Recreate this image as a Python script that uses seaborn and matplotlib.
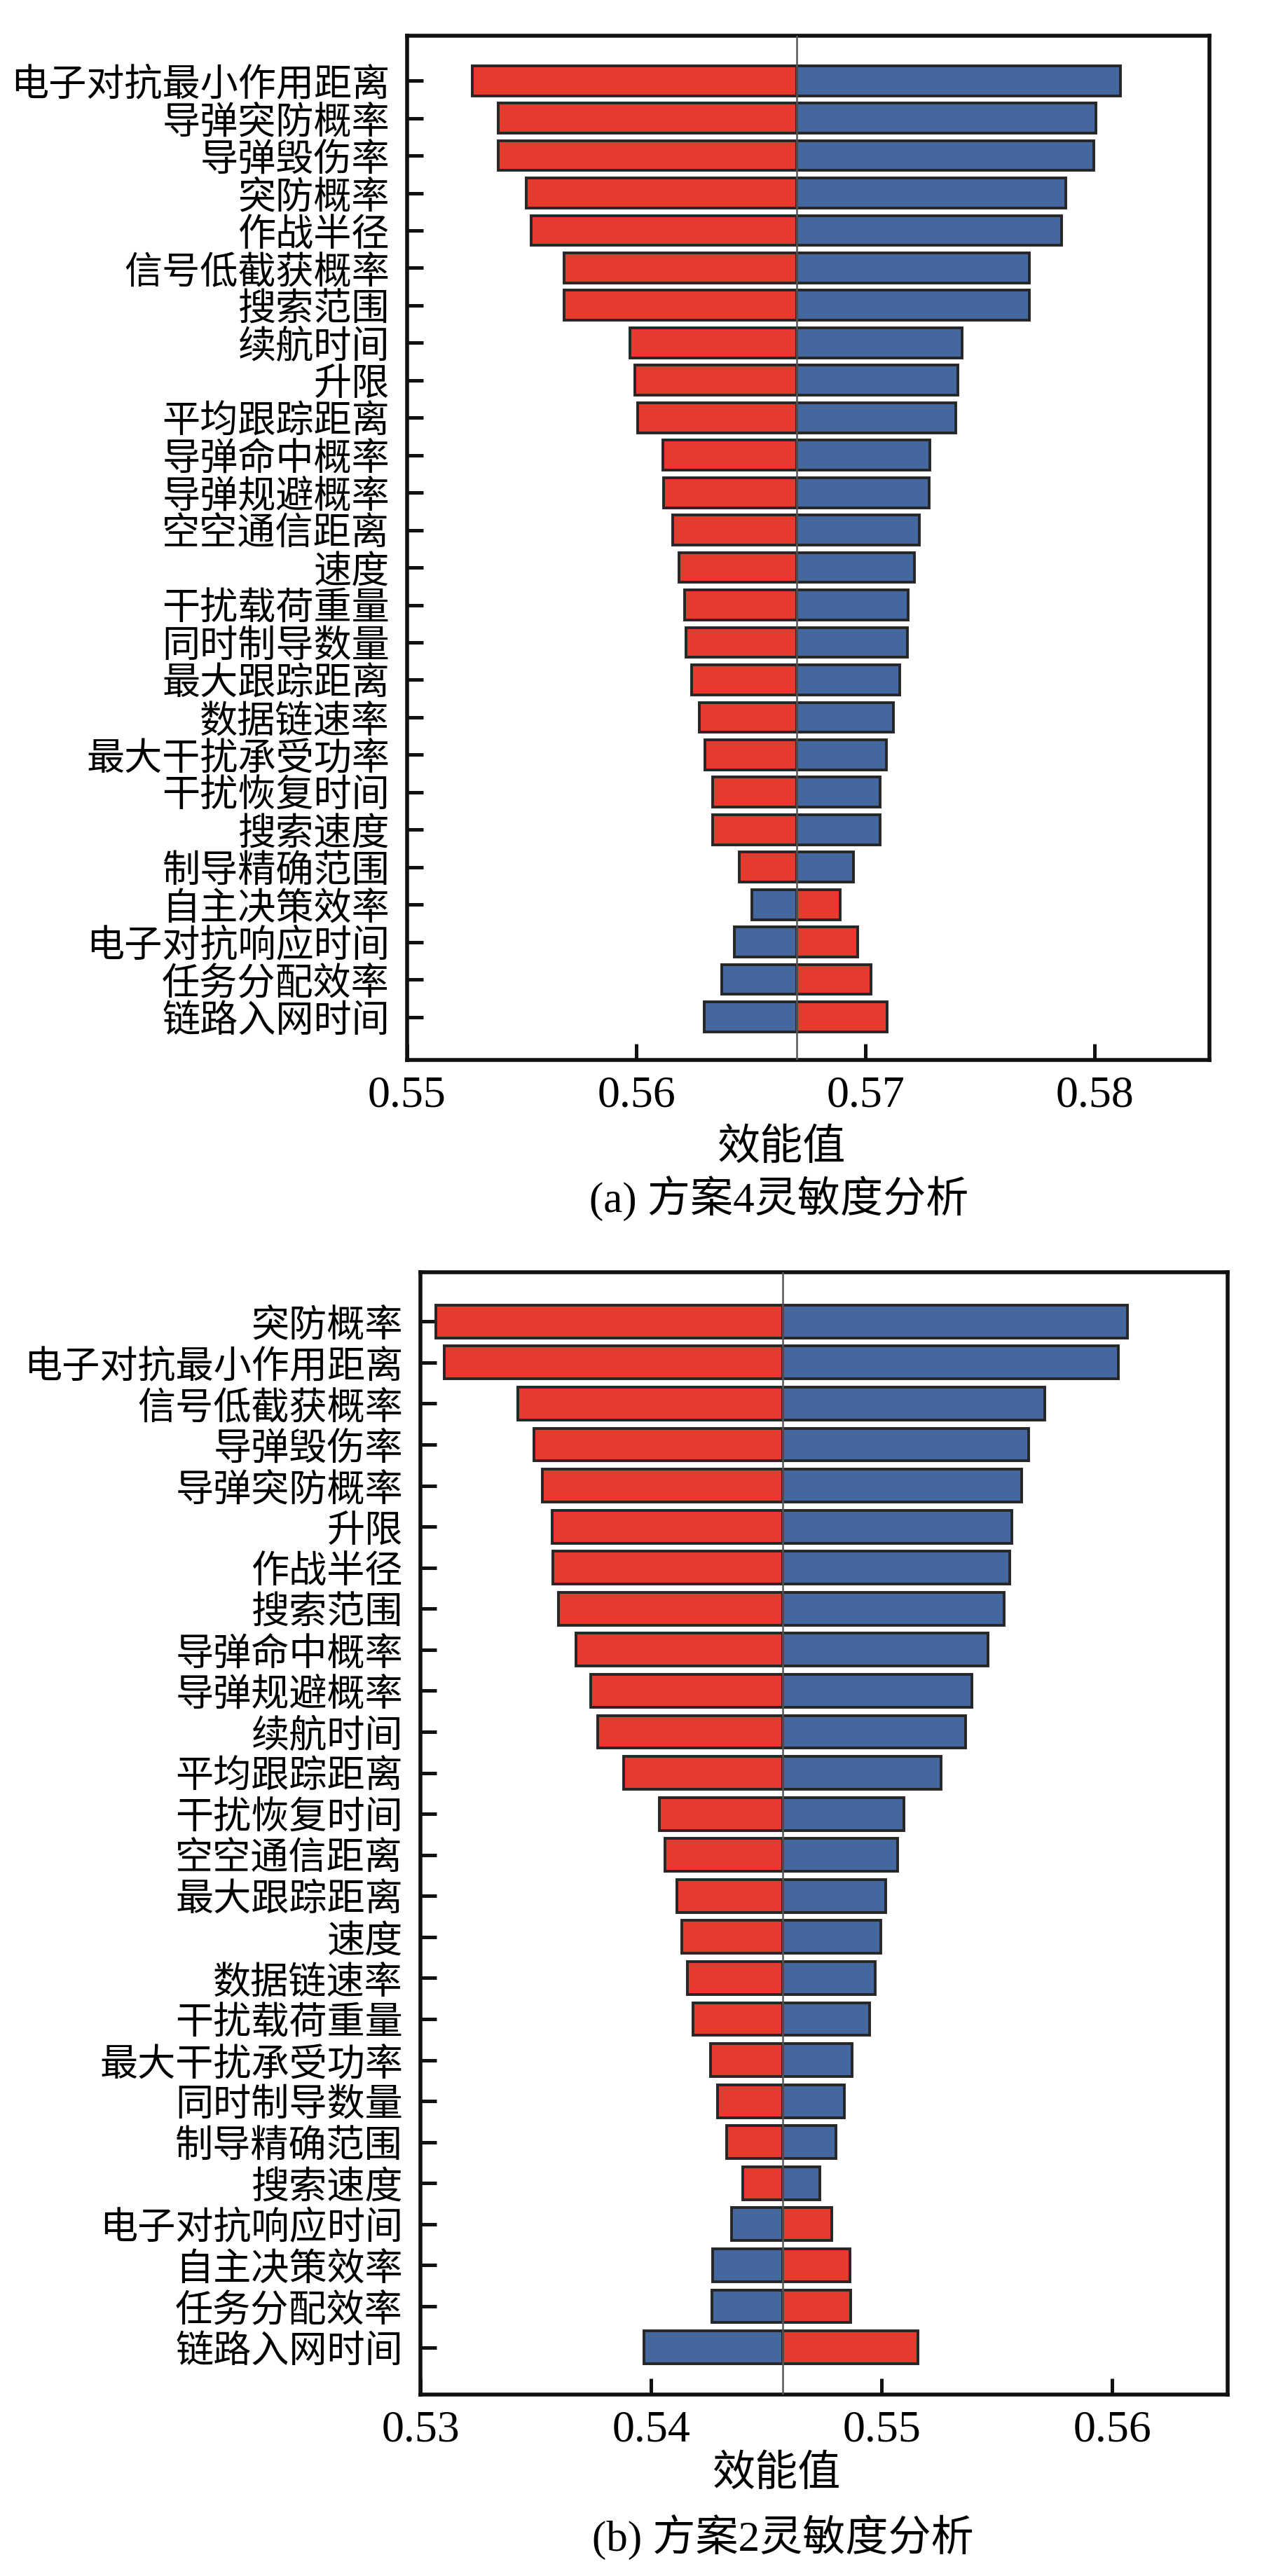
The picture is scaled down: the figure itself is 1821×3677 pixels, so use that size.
import matplotlib
matplotlib.use('Agg')
import matplotlib.pyplot as plt
import seaborn as sns
import numpy as np

# ---------------- data ----------------
labels_a = ['电子对抗最小作用距离', '导弹突防概率', '导弹毁伤率', '突防概率', '作战半径',
            '信号低截获概率', '搜索范围', '续航时间', '升限', '平均跟踪距离',
            '导弹命中概率', '导弹规避概率', '空空通信距离', '速度', '干扰载荷重量',
            '同时制导数量', '最大跟踪距离', '数据链速率', '最大干扰承受功率', '干扰恢复时间',
            '搜索速度', '制导精确范围', '自主决策效率', '电子对抗响应时间', '任务分配效率',
            '链路入网时间']
red_a = [0.55283, 0.55396, 0.55396, 0.55519, 0.55541, 0.55686, 0.55686, 0.55972,
         0.55993, 0.56007, 0.56117, 0.56120, 0.56159, 0.56187, 0.56212, 0.56216,
         0.56240, 0.56276, 0.56300, 0.56332, 0.56332, 0.56449, 0.56890, 0.56965,
         0.57025, 0.57095]
blue_a = [0.58113, 0.58004, 0.57996, 0.57873, 0.57855, 0.57714, 0.57714, 0.57420,
          0.57403, 0.57392, 0.57279, 0.57276, 0.57233, 0.57212, 0.57187, 0.57184,
          0.57148, 0.57120, 0.57092, 0.57064, 0.57064, 0.56947, 0.56505, 0.56428,
          0.56371, 0.56297]
base_a = 0.5670
xticks_a = [0.55, 0.56, 0.57, 0.58]
xticklabels_a = ['0.55', '0.56', '0.57', '0.58']
caption_a = '(a) 方案4灵敏度分析'

labels_b = ['突防概率', '电子对抗最小作用距离', '信号低截获概率', '导弹毁伤率', '导弹突防概率',
            '升限', '作战半径', '搜索范围', '导弹命中概率', '导弹规避概率',
            '续航时间', '平均跟踪距离', '干扰恢复时间', '空空通信距离', '最大跟踪距离',
            '速度', '数据链速率', '干扰载荷重量', '最大干扰承受功率', '同时制导数量',
            '制导精确范围', '搜索速度', '电子对抗响应时间', '自主决策效率', '任务分配效率',
            '链路入网时间']
red_b = [0.53067, 0.53102, 0.53423, 0.53493, 0.53528, 0.53570, 0.53574, 0.53599,
         0.53673, 0.53739, 0.53768, 0.53880, 0.54035, 0.54060, 0.54113, 0.54134,
         0.54158, 0.54183, 0.54257, 0.54289, 0.54327, 0.54398, 0.54782, 0.54863,
         0.54866, 0.55158]
blue_b = [0.56067, 0.56025, 0.55708, 0.55637, 0.55606, 0.55563, 0.55556, 0.55532,
          0.55461, 0.55391, 0.55363, 0.55257, 0.55095, 0.55070, 0.55018, 0.54996,
          0.54972, 0.54947, 0.54873, 0.54838, 0.54803, 0.54732, 0.54349, 0.54268,
          0.54264, 0.53968]
base_b = 0.5457
xticks_b = [0.53, 0.54, 0.55, 0.56]
xticklabels_b = ['0.53', '0.54', '0.55', '0.56']
caption_b = '(b) 方案2灵敏度分析'

xlabel_text = '效能值'

# ---------------- style ----------------
RED = '#E63A2F'
BLUE = '#44679E'
EDGE = '#262626'

sns.set_theme(style='white')
plt.rcParams['font.family'] = ['Liberation Serif', 'Noto Sans CJK SC']
plt.rcParams['axes.unicode_minus'] = False
for k in ['text.color', 'axes.labelcolor', 'xtick.color', 'ytick.color', 'axes.edgecolor']:
    plt.rcParams[k] = 'black'

W, H = 1821, 3677
fig = plt.figure(figsize=(W / 200, H / 200), dpi=200)
ax1 = fig.add_axes([581 / W, 1 - 1513 / H, 1145 / W, 1462 / H])
ax2 = fig.add_axes([600 / W, 1 - 3418 / H, 1152 / W, 1602 / H])


def draw(ax, labels, red, blue, base, xlim, xticks, xticklabels, lab_x, lab_y):
    y = np.arange(len(labels))
    red = np.asarray(red)
    blue = np.asarray(blue)
    ax.barh(y, red - base, left=base, height=0.8, color=RED, edgecolor=EDGE,
            linewidth=1.4, zorder=2)
    ax.barh(y, blue - base, left=base, height=0.8, color=BLUE, edgecolor=EDGE,
            linewidth=1.4, zorder=2)
    ax.axvline(base, color='#555555', lw=0.9, zorder=3)
    ax.set_xlim(*xlim)
    ax.set_ylim(len(labels) - 1 + 1.15, -1.2)
    ax.set_yticks(y)
    ax.set_yticklabels(labels, fontsize=19.5, family=['Noto Sans CJK SC'])
    ax.set_xticks(xticks)
    ax.set_xticklabels(xticklabels, fontsize=23)
    ax.tick_params(axis='both', which='major', direction='in', length=8.3, width=1.8,
                   color='#111111', bottom=True, left=True, top=False, right=False)
    ax.tick_params(axis='x', pad=8)
    ax.tick_params(axis='y', pad=9)
    for s in ax.spines.values():
        s.set_visible(True)
        s.set_linewidth(2.0)
        s.set_color('#111111')
    ax.grid(False)
    ax.set_xlabel(xlabel_text, fontsize=22, family=['Noto Sans CJK SC'])
    ax.xaxis.set_label_coords(lab_x, lab_y)
    ax.xaxis.label.set_va('center')


draw(ax1, labels_a, red_a, blue_a, base_a, (0.55, 0.585), xticks_a, xticklabels_a,
     0.467, -0.0855)
draw(ax2, labels_b, red_b, blue_b, base_b, (0.53, 0.565), xticks_b, xticklabels_b,
     0.441, -0.0705)

fig.text(1112 / W, 1 - 1711 / H, caption_a, ha='center', va='center', fontsize=22)
fig.text(1117 / W, 1 - 3622 / H, caption_b, ha='center', va='center', fontsize=22)

fig.savefig('out.png', dpi=200, facecolor='white')
